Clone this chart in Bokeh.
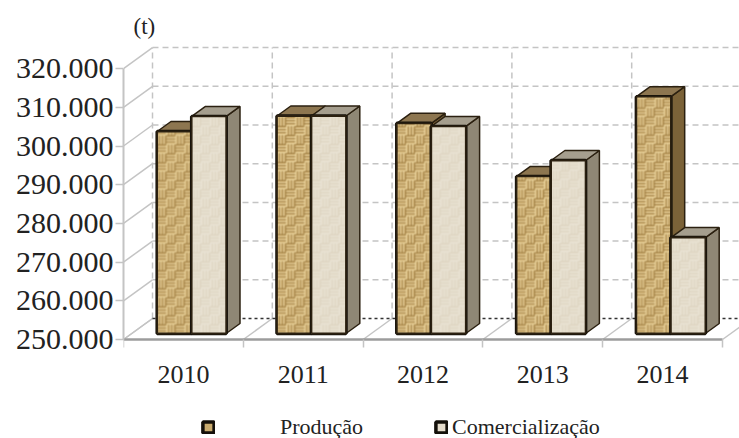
import numpy as np
from bokeh.plotting import figure
from bokeh.models import (Range1d, FixedTicker, Legend, LegendItem, Label)
from bokeh.embed import file_html
from bokeh.resources import INLINE

categories = ["2010", "2011", "2012", "2013", "2014"]
producao = [302200, 306200, 304300, 290600, 311200]
comercializacao = [306100, 306200, 303500, 294700, 274800]
y_ticks = [250000, 260000, 270000, 280000, 290000, 300000, 310000, 320000]
y_tick_labels = ["250.000", "260.000", "270.000", "280.000", "290.000", "300.000", "310.000", "320.000"]

W, H = 739, 438
LEFT, BASELINE = 123, 99   # axis position, and the room kept under the floor of the chart
PX_X = 119.8            # screen px per category
PX_Y = 3.87 / 1000      # screen px per tonne
SERIF = "Liberation Serif"

frame_w = W - LEFT
x_end = frame_w / PX_X
y_start = y_ticks[0]
y_low = y_start - BASELINE / PX_Y
y_end = y_low + H / PX_Y

p = figure(width=W, height=H, output_backend="svg", toolbar_location=None,
           x_range=Range1d(0, x_end), y_range=Range1d(y_low, y_end),
           min_border_left=LEFT, min_border_right=0, min_border_top=0, min_border_bottom=0)
p.outline_line_color = None
p.background_fill_color = "#ffffff"
p.grid.visible = False

wall_dx = 29 / PX_X
wall_dy = 21 / PX_Y
GREY = "#c4c4c4"

# back wall and side wall
n = len(categories)
top_wall = y_ticks[-1] + wall_dy
base_wall = y_ticks[0] + wall_dy
p.segment([wall_dx] * (len(y_ticks) - 1), [t + wall_dy for t in y_ticks[1:]],
          [x_end] * (len(y_ticks) - 1), [t + wall_dy for t in y_ticks[1:]],
          line_color=GREY, line_width=1.5, line_dash="6 4")
p.segment([i + wall_dx for i in range(n + 1)], [base_wall] * (n + 1),
          [i + wall_dx for i in range(n + 1)], [top_wall] * (n + 1),
          line_color=GREY, line_width=1.5, line_dash="6 4")
p.segment([0] * len(y_ticks), y_ticks, [wall_dx] * len(y_ticks), [t + wall_dy for t in y_ticks],
          line_color=GREY, line_width=1.5)
p.segment(list(range(n + 1)), [y_start] * (n + 1), [i + wall_dx for i in range(n + 1)], [base_wall] * (n + 1),
          line_color=GREY, line_width=1.5)
p.segment([wall_dx], [base_wall], [x_end], [base_wall], line_color="#333333", line_width=1.5, line_dash="3 3")


def texture(w, h, kind):
    """Small woven fill, one array cell per screen pixel."""
    yy, xx = np.mgrid[0:h, 0:w]
    block = 9
    bx, by = xx // block, yy // block
    horiz = (bx + by) % 2 == 0
    stripe = np.where(horiz, yy % 3, xx % 3)
    if kind == "prod":
        palette = np.array([[242, 222, 170], [214, 182, 118], [150, 116, 58]], dtype=float)
    else:
        palette = np.array([[236, 230, 216], [230, 222, 205], [220, 210, 190]], dtype=float)
    rgb = palette[stripe]
    kernel = np.array([0.25, 0.5, 0.25])
    for ax in (0, 1):
        rgb = np.apply_along_axis(lambda v: np.convolve(np.r_[v[0], v, v[-1]], kernel, "valid"), ax, rgb)
    out = np.zeros((h, w), dtype=np.uint32)
    view = out.view(dtype=np.uint8).reshape((h, w, 4))
    view[..., :3] = rgb.astype(np.uint8)
    view[..., 3] = 255
    return out


BAR_W = 34.5 / PX_X
F0 = 6 / 21
DEPTH = 10 / 21
OUT = "#2b2010"
face_renderers = {}


def bar(i, offset, val, front, side, top, kind):
    cx = i + 0.5 + F0 * wall_dx
    x0 = cx + offset * BAR_W
    x1 = x0 + BAR_W
    y0 = y_start + F0 * wall_dy
    y1 = val + F0 * wall_dy
    ddx, ddy = DEPTH * wall_dx, DEPTH * wall_dy
    p.patch([x1, x1 + ddx, x1 + ddx, x1], [y0, y0 + ddy, y1 + ddy, y1],
            fill_color=side, line_color=OUT, line_width=1.5)
    p.patch([x0, x0 + ddx, x1 + ddx, x1], [y1, y1 + ddy, y1 + ddy, y1],
            fill_color=top, line_color=OUT, line_width=1.5)
    r = p.quad(left=x0, right=x1, bottom=y0, top=y1, fill_color=front, line_color="#14100a", line_width=3.5)
    face_renderers.setdefault(kind, r)
    w_px = int(round((x1 - x0) * PX_X))
    h_px = max(1, int(round((y1 - y0) * PX_Y)))
    p.image_rgba(image=[texture(w_px, h_px, kind)], x=x0, y=y0, dw=x1 - x0, dh=y1 - y0)
    p.line([x0, x0, x1, x1, x0], [y0, y1, y1, y0, y0], line_color=OUT, line_width=1.8)


for i in range(n):
    bar(i, -1, producao[i], "#c9ab6e", "#7b6238", "#8d7650", "prod")
    bar(i, 0, comercializacao[i], "#e5dccb", "#8f8775", "#a59e8e", "com")

# axes
yax = p.yaxis[0]
yax.ticker = FixedTicker(ticks=y_ticks)
yax.major_label_overrides = {t: l for t, l in zip(y_ticks, y_tick_labels)}
yax.bounds = (y_ticks[0], y_ticks[-1])
yax.axis_line_color = GREY
yax.axis_line_width = 2
yax.major_tick_line_color = GREY
yax.major_tick_line_width = 1.5
yax.major_tick_in = 0
yax.major_tick_out = 8
yax.minor_tick_line_color = None
yax.major_label_standoff = 2
yax.major_label_text_font = SERIF
yax.major_label_text_font_size = "30px"
yax.major_label_text_color = "#222222"

xax = p.xaxis[0]
xax.fixed_location = y_start
centers = [i + 0.5 for i in range(n)]
xax.ticker = FixedTicker(ticks=centers, minor_ticks=list(range(n + 1)))
xax.major_label_overrides = {c: l for c, l in zip(centers, categories)}
xax.bounds = (0, n)
xax.axis_line_color = "#9c9c9c"
xax.axis_line_width = 2.5
xax.major_tick_line_color = None
xax.major_tick_in = 0
xax.major_tick_out = 0
xax.minor_tick_line_color = GREY
xax.minor_tick_line_width = 1.5
xax.minor_tick_in = 0
xax.minor_tick_out = 8
xax.major_label_standoff = 18
xax.major_label_text_font = SERIF
xax.major_label_text_font_size = "26px"
xax.major_label_text_color = "#222222"

p.add_layout(Label(x=133 - 123, y=438 - 38, x_units="screen", y_units="screen", text="(t)",
                   text_font=SERIF, text_font_size="23px", text_color="#222222"))


def legend(name, key, x, standoff):
    lg = Legend(items=[LegendItem(label=name, renderers=[face_renderers[key]])],
                location=(x, -2), padding=0, margin=0, spacing=0,
                glyph_width=14, glyph_height=14, label_standoff=standoff,
                background_fill_alpha=0, border_line_color=None,
                label_text_font=SERIF, label_text_font_size="22px", label_text_color="#222222")
    lg.click_policy = "none"
    p.add_layout(lg, "center")


legend("Produção", "prod", 78, 65)
legend("Comercialização", "com", 311, 4)

open("out.html", "w").write(file_html(p, INLINE))
